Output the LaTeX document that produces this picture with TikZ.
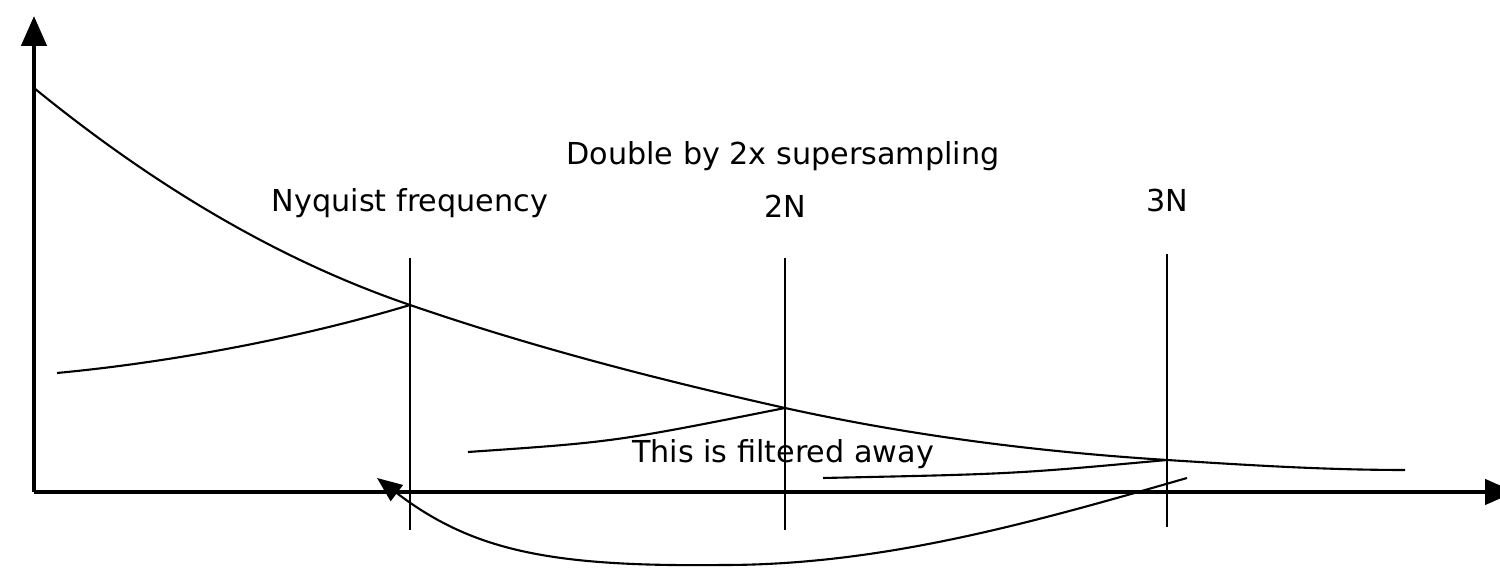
\documentclass[tikz,border=0pt]{standalone}
\usepackage{fontspec}
\setmainfont{DejaVu Sans}
\usetikzlibrary{positioning,arrows.meta}

\begin{document}
\begin{tikzpicture}[x=0.1mm, y=0.1mm,
  axisline/.style={line width=1.3pt, -{Triangle[length=3mm, width=2.5mm]}},
  curveline/.style={line width=0.6pt},
  lbl/.style={font=\fontsize{8.6}{10}\selectfont, anchor=base, inner sep=0pt}]

\useasboundingbox (-34,-77) rectangle (1466,492);

% --- AXES ---
\coordinate (origin) at (0,0);
\coordinate (xend) at (1481,0);
\coordinate (yend) at (0,476);
\draw[axisline] (origin) -- (xend);
\draw[axisline] (origin) -- (yend);

% --- SAMPLING LINES (N, 2N, 3N) ---
\foreach \nm/\xx/\lo/\hi in {nyq/376/-38/234, twoN/751/-38/234, threeN/1133/-35/238} {
  \coordinate (\nm-lo) at (\xx,\lo);
  \coordinate (\nm-hi) at (\xx,\hi);
  \draw[curveline] (\nm-lo) -- (\nm-hi);
}

% --- SPECTRUM (falls off with frequency) ---
\coordinate (top) at (0,404);
\coordinate (nyq-x) at (376,187);
\coordinate (twoN-x) at (751,84);
\coordinate (threeN-x) at (1133,32);
\coordinate (tail) at (1371,22);
\draw[curveline] (top)
  .. controls (125,302) and (250,230) .. (nyq-x)
  .. controls (501,144) and (626,112) .. (twoN-x)
  .. controls (878,56) and (1006,40) .. (threeN-x)
  .. controls (1212,27) and (1290,22) .. (tail);

% --- FOLDED BACK PARTS ---
\coordinate (foldA) at (23,119);
\coordinate (foldB) at (434,40);
\coordinate (foldC) at (789,14);
\draw[curveline] (foldA) .. controls (140,130) and (270,155) .. (nyq-x);
\draw[curveline] (foldB) .. controls (580,50) .. (twoN-x);
\draw[curveline] (foldC) .. controls (980,18) .. (threeN-x);

% --- LABELS ---
\node[lbl] (dbl) at (749,327) {Double by 2x supersampling};
\node[lbl] (nyqlbl) at (376,280) {Nyquist frequency};
\node[lbl] (lbl2N) at (751,274) {2N};
\node[lbl] (lbl3N) at (1133,280) {3N};
\node[lbl] (filt) at (749,29) {This is filtered away};

% --- ARROW BACK TO N ---
\coordinate (arrstart) at (1153,14);
\coordinate (arrlow) at (690,-73);
\coordinate (arrtip) at (343,14);
\draw[curveline, -{Triangle[length=2.5mm, width=2mm]}]
  (arrstart) .. controls (1000,-30) and (850,-73) .. (arrlow)
  .. controls (520,-75) and (440,-60) .. (arrtip);

\end{tikzpicture}
\end{document}
